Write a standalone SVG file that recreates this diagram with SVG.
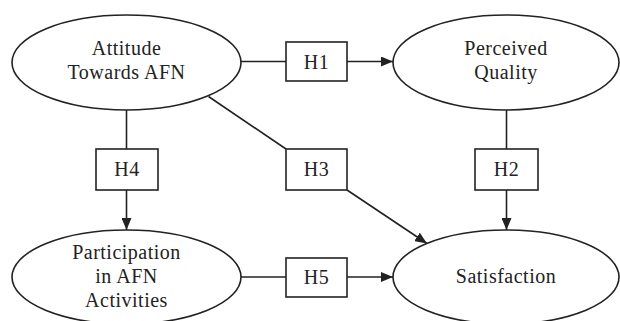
<svg xmlns="http://www.w3.org/2000/svg" width="620" height="321" viewBox="0 0 620 321">
<style>
.n{fill:#fff;stroke:#222;stroke-width:1.6}
.t{font-family:"Liberation Serif","DejaVu Serif",serif;font-size:20px;fill:#222;text-anchor:middle;letter-spacing:0.5px}
.c{stroke:#222;stroke-width:1.6;fill:none}
</style>
<defs>
<marker id="ah" viewBox="0 0 12 10" refX="12" refY="5" markerWidth="12" markerHeight="10" markerUnits="userSpaceOnUse" orient="auto">
<path d="M0,0 L12,5 L0,10 z" fill="#222"/>
</marker>
</defs>
<rect width="620" height="321" fill="#fff"/>
<g id="connectors">
<line class="c" x1="241" y1="61.5" x2="286" y2="61.5"/>
<line class="c" x1="347" y1="61.5" x2="393" y2="61.5" marker-end="url(#ah)"/>
<line class="c" x1="126.5" y1="110" x2="126.5" y2="149"/>
<line class="c" x1="126.5" y1="190" x2="126.5" y2="230" marker-end="url(#ah)"/>
<line class="c" x1="506.5" y1="110" x2="506.5" y2="149"/>
<line class="c" x1="506.5" y1="190" x2="506.5" y2="230" marker-end="url(#ah)"/>
<line class="c" x1="208.5" y1="96.5" x2="286" y2="149"/>
<line class="c" x1="347" y1="190" x2="427" y2="243.5" marker-end="url(#ah)"/>
<line class="c" x1="241" y1="277" x2="286" y2="277"/>
<line class="c" x1="347" y1="277" x2="393" y2="277" marker-end="url(#ah)"/>
</g>
<g id="attitude">
<ellipse class="n" cx="126.5" cy="62.5" rx="114.5" ry="47.5"/>
<text class="t" x="126.5" y="55">Attitude</text>
<text class="t" x="126.5" y="79">Towards AFN</text>
</g>
<g id="quality">
<ellipse class="n" cx="506" cy="62.5" rx="113" ry="47.5"/>
<text class="t" x="506" y="55">Perceived</text>
<text class="t" x="506" y="79">Quality</text>
</g>
<g id="participation">
<ellipse class="n" cx="126.5" cy="277" rx="114.5" ry="47"/>
<text class="t" x="126.5" y="259">Participation</text>
<text class="t" x="126.5" y="283">in AFN</text>
<text class="t" x="126.5" y="307">Activities</text>
</g>
<g id="satisfaction">
<ellipse class="n" cx="506" cy="277" rx="113" ry="47"/>
<text class="t" x="506" y="283">Satisfaction</text>
</g>
<g id="h1">
<rect class="n" x="286" y="42" width="61" height="39"/>
<text class="t" x="316.5" y="68.5">H1</text>
</g>
<g id="h4">
<rect class="n" x="96" y="149" width="62" height="41"/>
<text class="t" x="127" y="176">H4</text>
</g>
<g id="h3">
<rect class="n" x="286" y="149" width="61" height="41"/>
<text class="t" x="316.5" y="176">H3</text>
</g>
<g id="h2">
<rect class="n" x="475" y="149" width="63" height="41"/>
<text class="t" x="506.5" y="176">H2</text>
</g>
<g id="h5">
<rect class="n" x="286" y="258" width="61" height="39"/>
<text class="t" x="316.5" y="284">H5</text>
</g>
</svg>
